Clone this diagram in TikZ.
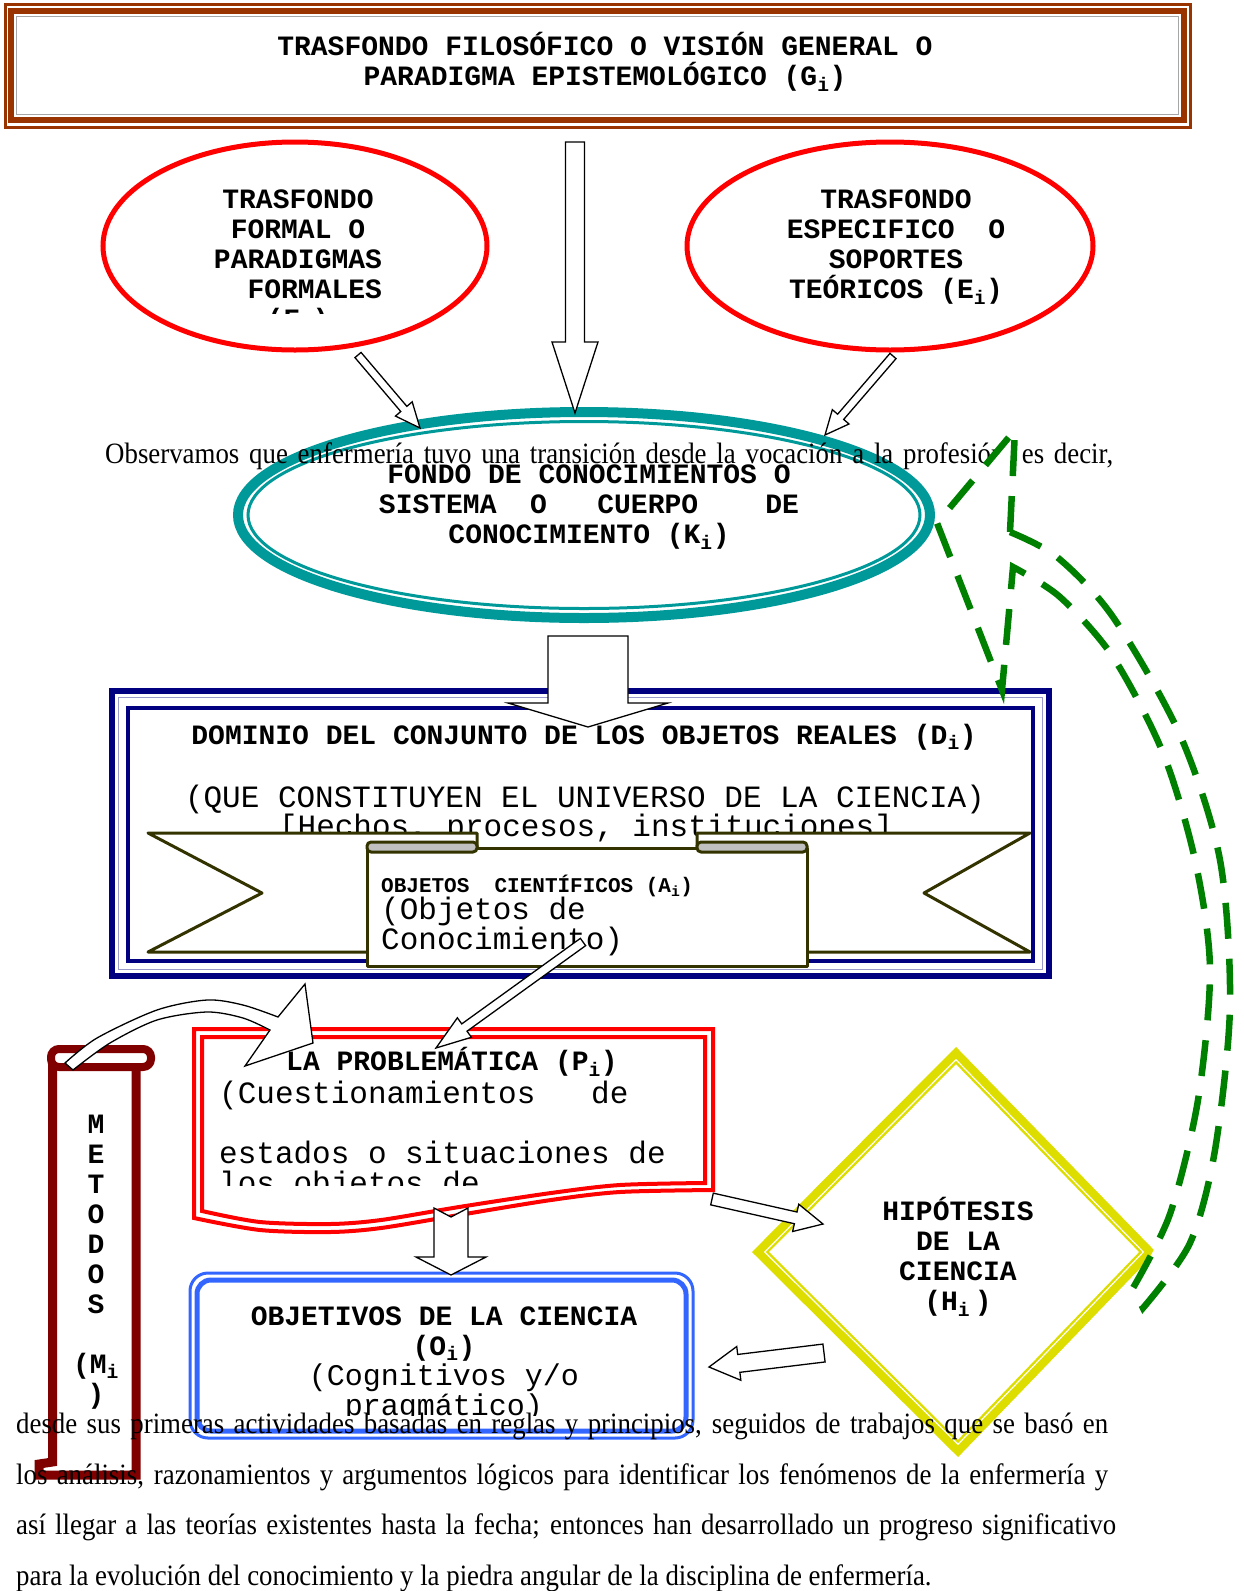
\documentclass[tikz,border=0pt]{standalone}
\usepackage{fontspec}
\setmainfont{Liberation Serif}
\newfontfamily\monofont{Liberation Mono}
\newfontfamily\prosefont[FakeStretch=0.91]{Liberation Serif}
\usetikzlibrary{calc}

\definecolor{brickred}{RGB}{153,51,0}
\definecolor{tealring}{RGB}{0,153,153}
\definecolor{navyline}{RGB}{0,0,128}
\definecolor{boxred}{RGB}{255,0,0}
\definecolor{boxblue}{RGB}{51,102,255}
\definecolor{hypyellow}{RGB}{221,221,0}
\definecolor{ribbonolive}{RGB}{51,51,0}
\definecolor{scrollred}{RGB}{128,0,0}
\definecolor{loopgreen}{RGB}{0,128,0}
\definecolor{tubegray}{RGB}{192,192,192}

\newcommand\plainline{\mdseries\fontsize{30}{30}\selectfont}

\tikzset{
  capt/.style={font=\monofont\bfseries\fontsize{28}{30}\selectfont, align=center, inner sep=0pt},
  note/.style={font=\monofont\fontsize{31}{30}\selectfont, inner sep=0pt},
  prose/.style={font=\prosefont\fontsize{29.5}{34}\selectfont, anchor=base west, inner sep=0pt},
  blk/.style={draw=black, fill=white, line width=1.3pt, line join=miter},
  ribbon/.style={draw=ribbonolive, fill=white, line width=3pt, line join=round},
  loopdash/.style={draw=loopgreen, fill=white, line width=6.5pt, dash pattern=on 36pt off 20pt},
}

% straight block arrow: tail, tip, half shaft, half head, head length
\newcommand\blockarrow[5]{%
  \coordinate (ba-h) at ($(#2)!#5!(#1)$);
  \filldraw[blk] ($(#1)!#3!90:(#2)$) -- ($(ba-h)!#3!-90:(#1)$) -- ($(ba-h)!#4!-90:(#1)$) -- (#2)
    -- ($(ba-h)!#4!90:(#1)$) -- ($(ba-h)!#3!90:(#1)$) -- ($(#1)!#3!-90:(#2)$) -- cycle;}

\begin{document}
\begin{tikzpicture}[x=1pt, y=-1pt]
    \fill[white] (0,0) rectangle (1243,1591);
    \useasboundingbox (0,0) rectangle (1243,1591);

    % Top box
    \draw[brickred, line width=3pt] (5,4.5) rectangle (1190.5,127.5);
    \draw[brickred, line width=6pt] (11,11) rectangle (1184,120);
    \draw[gray!70, line width=1pt] (16.5,16.5) rectangle (1178.5,114.5);
    \node[capt] (vision) at (605,62) {TRASFONDO FILOSÓFICO O VISIÓN GENERAL O\\PARADIGMA EPISTEMOLÓGICO (G\textsubscript{i})};

    % Red ellipses
    \draw[boxred, line width=5pt, fill=white] (295,246) ellipse [x radius=192pt, y radius=104pt];
    \begin{scope}
        \clip (100,140) rectangle (500,313);
        \node[capt] (formal) at (298,262) {TRASFONDO\\FORMAL O\\PARADIGMAS\\\phantom{XX}FORMALES\\(F\textsubscript{i})};
    \end{scope}
    \draw[boxred, line width=5pt, fill=white] (890,246) ellipse [x radius=203pt, y radius=104pt];
    \node[capt] (especifico) at (896,247) {TRASFONDO\\ESPECIFICO~~O\\SOPORTES\\TEÓRICOS (E\textsubscript{i})};

    % Knowledge ellipse
    \draw[tealring, line width=10pt, fill=white] (584,515) ellipse [x radius=346pt, y radius=103pt];
    \draw[tealring, line width=3pt] (584,515) ellipse [x radius=336pt, y radius=93.5pt];
    \node[prose] (obs) at (105,463) {\makebox[1008pt][s]{Observamos que enfermería tuvo una transición desde la vocación a la profesión, es decir,}};
    \node[capt] (fondo) at (589,507) {FONDO DE CONOCIMIENTOS O\\SISTEMA~~O~~~CUERPO~~~~DE\\CONOCIMIENTO (K\textsubscript{i})};

    % Arrows into the knowledge ellipse
    \coordinate (gk0) at (575,142);  \coordinate (gk1) at (575,413);
    \coordinate (fk0) at (358,355);  \coordinate (fk1) at (420,428);
    \coordinate (ek0) at (893,356);  \coordinate (ek1) at (825,435);
    \blockarrow{gk0}{gk1}{9.5pt}{23pt}{71pt}
    \blockarrow{fk0}{fk1}{4pt}{11pt}{25pt}
    \blockarrow{ek0}{ek1}{4pt}{11pt}{24pt}

    % Domain box
    \draw[navyline, line width=6pt, fill=white] (112,691) rectangle (1049,976);
    \draw[navyline!40, line width=1pt] (118.5,697.5) rectangle (1042.5,969.5);
    \draw[navyline, line width=4pt] (128,708) rectangle (1033,961);
    \node[capt] (dominio) at (584,737) {DOMINIO DEL CONJUNTO DE LOS OBJETOS REALES (D\textsubscript{i})};
    \node[note] (universo) at (585,799) {(QUE CONSTITUYEN EL UNIVERSO DE LA CIENCIA)};
    \node[note] (hechos) at (586,828) {[Hechos, procesos, instituciones]};

    % Ribbon
    \filldraw[ribbon] (148,833) -- (477,833) -- (477,952) -- (148,952) -- (262,893) -- cycle;
    \filldraw[ribbon] (1030,833) -- (697,833) -- (697,952) -- (1030,952) -- (924,893) -- cycle;
    \filldraw[ribbon] (367,848) rectangle (807,966);
    \filldraw[ribbon, fill=tubegray, rounded corners=4pt] (367,842) rectangle (477,852);
    \filldraw[ribbon, fill=tubegray, rounded corners=4pt] (697,842) rectangle (807,852);
    \node[capt, font=\monofont\bfseries\fontsize{21}{24}\selectfont, anchor=west] (cientificos) at (381,886) {OBJETOS~~CIENTÍFICOS (A\textsubscript{i})};
    \node[note, align=left, anchor=west] (conocimiento) at (381,926) {(Objetos de\\Conocimiento)};

    \coordinate (kd0) at (588,636);  \coordinate (kd1) at (588,727);
    \blockarrow{kd0}{kd1}{40pt}{80pt}{24pt}

    % Problem box
    \draw[boxred, line width=4pt, fill=white] (713,1190) -- (713,1029) -- (194,1029) -- (194,1218)
        -- plot[smooth] coordinates {(194,1218) (260,1230) (330,1232) (381,1228) (459,1215) (551,1200) (620,1192) (713,1190)} -- cycle;
    \draw[boxred, line width=4pt] (705,1183) -- (705,1037) -- (202,1037) -- (202,1211)
        -- plot[smooth] coordinates {(202,1211) (260,1222) (330,1224) (381,1220) (459,1207) (551,1193) (620,1185) (705,1183)} -- cycle;
    \node[capt] (problematica) at (452,1062) {LA PROBLEMÁTICA (P\textsubscript{i})};
    \begin{scope}
        \clip (205,1075) rectangle (700,1185);
        \node[note, align=left, anchor=north west] (cuestion) at (219,1081) {(Cuestionamientos~~~de\\[30pt]estados o situaciones de\\los objetos de};
    \end{scope}

    % Methods scroll
    \draw[scrollred, line width=9pt, line join=miter] (52.5,1058) -- (52.5,1462) -- (39,1464) -- (39,1475) -- (136,1475) -- (136,1066);
    \draw[scrollred, line width=8pt, fill=white, rounded corners=8pt] (51,1049) rectangle (151,1067);
    \node[capt] (metodos) at (96,1262) {M\\E\\T\\O\\D\\O\\S\\[30pt](M\textsubscript{i}\\)};

    % Curved arrow from methods
    \filldraw[blk] plot[smooth] coordinates {(65,1063) (97,1038) (157,1010) (207,1000) (243,1005) (278,1017)}
        -- (305,984) -- (313,1043) -- (245,1066) -- (270,1030)
        -- plot[smooth] coordinates {(270,1030) (243,1018) (207,1012) (157,1020) (110,1043) (73,1070)} -- cycle;

    \coordinate (ap0) at (583,942);  \coordinate (ap1) at (436,1048);
    \blockarrow{ap0}{ap1}{4.5pt}{12pt}{35pt}

    % Objectives box
    \draw[boxblue, line width=3pt, fill=white, rounded corners=18pt] (190,1273) rectangle (693,1438);
    \draw[boxblue, line width=5pt, rounded corners=14pt] (197,1280) rectangle (686,1431);
    \begin{scope}
        \clip (205,1285) rectangle (680,1415);
        \node[capt] (objetivos) at (444,1364) {OBJETIVOS DE LA CIENCIA\\(O\textsubscript{i})\\{\plainline (Cognitivos y/o}\\{\plainline pragmático)}};
    \end{scope}
    \filldraw[blk] (434,1208) -- (451,1217) -- (468,1208) -- (468,1257) -- (486,1257) -- (451,1275) -- (416,1257) -- (434,1257) -- cycle;

    % Hypothesis diamond
    \draw[hypyellow, line width=12pt, fill=white, line join=miter] (956,1055.5) -- (1147.5,1252) -- (958,1448.5) -- (760.5,1252) -- cycle;
    \draw[white, line width=1.2pt] (956,1059.7) -- (1143.3,1252) -- (958,1444.3) -- (764.7,1252) -- cycle;
    \node[capt] (hipotesis) at (958,1257) {HIPÓTESIS\\DE LA\\CIENCIA\\(H\textsubscript{i}\,)};

    \coordinate (ph0) at (712,1199);  \coordinate (ph1) at (823,1224);
    \coordinate (ho0) at (824,1353);  \coordinate (ho1) at (709,1367);
    \blockarrow{ph0}{ph1}{6pt}{14pt}{28pt}
    \blockarrow{ho0}{ho1}{9pt}{17pt}{30pt}

    % Feedback loop
    \filldraw[loopdash] (1010,532) -- (1015,430) -- (937,523) -- (1002,690) -- (1013,567)
        -- plot[smooth] coordinates {(1013,567) (1060,597) (1113,657) (1163,753) (1195,860) (1210,969) (1198,1100) (1170,1214) (1133,1288)}
        -- plot[smooth] coordinates {(1143,1308) (1190,1243) (1215,1150) (1230,1006) (1220,860) (1180,735) (1113,617) (1057,557) (1010,532)} -- cycle;

    % Running text
    \node[prose] (p1) at (16,1433) {\makebox[1092pt][s]{desde sus primeras actividades basadas en reglas y principios, seguidos de trabajos que se basó en}};
    \node[prose] (p2) at (16,1484) {\makebox[1092pt][s]{los análisis, razonamientos y argumentos lógicos para identificar los fenómenos de la enfermería y}};
    \node[prose] (p3) at (16,1534) {\makebox[1100pt][s]{así llegar a las teorías existentes hasta la fecha; entonces han desarrollado un progreso significativo}};
    \node[prose] (p4) at (16,1585) {para la evolución del conocimiento y la piedra angular de la disciplina de enfermería.};
\end{tikzpicture}
\end{document}
